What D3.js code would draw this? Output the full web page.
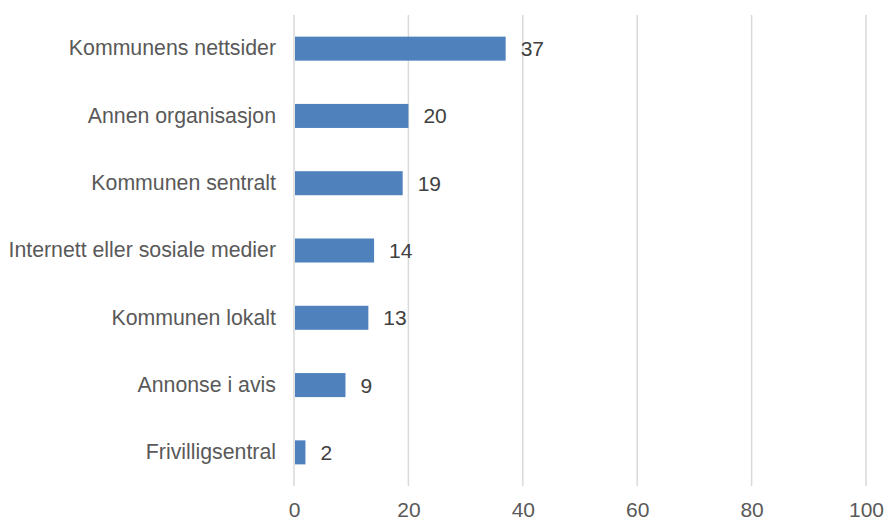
<!DOCTYPE html>
<html>
<head>
<meta charset="utf-8">
<script src="https://cdn.jsdelivr.net/npm/d3@7"></script>
<style>
  body { margin: 0; background: #fff; }
  svg text { font-family: "Liberation Sans", Arial, sans-serif; }
</style>
</head>
<body>
<div id="container"></div>
<script>
/* DATA */
const categories = ["Kommunens nettsider", "Annen organisasjon", "Kommunen sentralt",
  "Internett eller sosiale medier", "Kommunen lokalt", "Annonse i avis", "Frivilligsentral"];
const values = [37, 20, 19, 14, 13, 9, 2];
const xTicks = [0, 20, 40, 60, 80, 100];

/* CONSTANTS */
const width = 885;
const height = 519;
const margin = ({top: 15, right: 19, bottom: 33, left: 294});

const data = categories.map((c, i) => ({label: c, value: values[i]}));

/* SCALES */
const xScale = d3.scaleLinear()
  .domain([0, 100])
  .range([margin.left, width - margin.right]);

const yScale = d3.scaleBand()
  .domain(categories)
  .range([margin.top, height - margin.bottom])
  .paddingInner(0.643)
  .paddingOuter(0.3215);

const svg = d3.select("#container")
  .append("svg")
  .attr("width", width)
  .attr("height", height);

// gridlines
svg.append("g")
  .selectAll("line")
  .data(xTicks)
  .join("line")
  .attr("x1", d => xScale(d))
  .attr("x2", d => xScale(d))
  .attr("y1", margin.top)
  .attr("y2", height - margin.bottom)
  .attr("stroke", "#d9d9d9")
  .attr("stroke-width", 1.5);

// bars
svg.append("g")
  .selectAll("rect")
  .data(data)
  .join("rect")
  .attr("x", xScale(0) + 1)
  .attr("y", d => yScale(d.label))
  .attr("width", d => xScale(d.value) - xScale(0) - 1)
  .attr("height", yScale.bandwidth())
  .attr("fill", "#4f81bd");

// value labels
svg.append("g")
  .selectAll("text")
  .data(data)
  .join("text")
  .attr("x", d => xScale(d.value) + 15)
  .attr("y", d => yScale(d.label) + yScale.bandwidth() / 2)
  .attr("dy", "0.36em")
  .attr("font-size", 21)
  .attr("fill", "#404040")
  .text(d => d.value);

// axes
const yAxis = d3.axisLeft(yScale).tickSize(0).tickPadding(18);
svg.append("g")
  .attr("transform", `translate(${margin.left},0)`)
  .call(yAxis)
  .call(g => g.select(".domain").remove())
  .selectAll(".tick text")
  .attr("font-size", 21.3)
  .attr("fill", "#595959");

const xAxis = d3.axisBottom(xScale).tickValues(xTicks).tickSize(0).tickPadding(16);
svg.append("g")
  .attr("transform", `translate(0,${height - margin.bottom})`)
  .call(xAxis)
  .call(g => g.select(".domain").remove())
  .selectAll(".tick text")
  .attr("font-size", 21)
  .attr("fill", "#595959");
</script>
</body>
</html>
